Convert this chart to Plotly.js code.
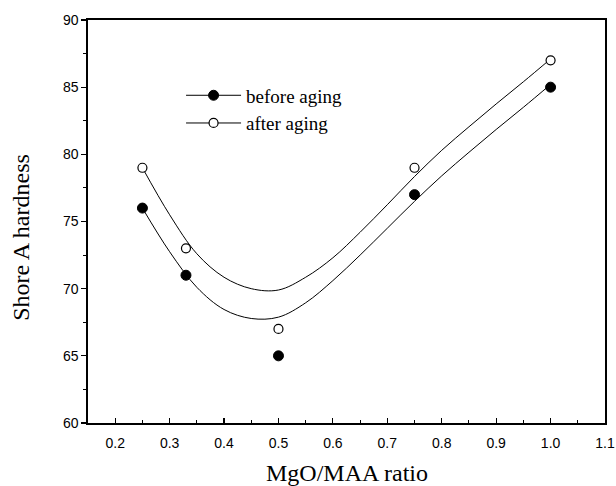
<!DOCTYPE html>
<html>
<head>
<meta charset="utf-8">
<script src="https://cdn.plot.ly/plotly-3.0.1.min.js"></script>
<style>html,body{margin:0;padding:0;background:#fff}#chart{width:616px;height:486px}</style>
</head>
<body>
<div id="chart"></div>
<script>
// measured data points
var ratio = [0.25, 0.33, 0.5, 0.75, 1.0];
var beforeAging = [76, 71, 65, 77, 85];
var afterAging = [79, 73, 67, 79, 87];

// fitted curves
var curveX = [0.25, 0.30, 0.35, 0.40, 0.45, 0.50, 0.55, 0.60, 0.65, 0.70, 0.75, 0.80, 0.85, 0.90, 0.95, 1.0];
var beforeCurve = [76.0, 72.75, 70.1, 68.45, 67.78, 67.88, 68.95, 70.6, 72.5, 74.5, 76.5, 78.4, 80.15, 81.85, 83.5, 85.2];
var afterCurve = [79.0, 75.5, 72.6, 70.85, 70.0, 69.9, 70.85, 72.3, 74.2, 76.25, 78.35, 80.3, 82.05, 83.75, 85.4, 87.1];

var seriesNames = ['before aging', 'after aging'];
var xTitle = 'MgO/MAA ratio';
var yTitle = 'Shore A hardness';

var lineStyle = {color: '#000', width: 1, shape: 'spline', smoothing: 1};
var filledMarker = {symbol: 'circle', size: 10, color: '#000', line: {color: '#000', width: 1}};
var openMarker = {symbol: 'circle', size: 9, color: '#fff', line: {color: '#000', width: 1.2}};

var traces = [
  {x: curveX, y: beforeCurve, mode: 'lines', line: lineStyle, showlegend: false, hoverinfo: 'skip'},
  {x: curveX, y: afterCurve, mode: 'lines', line: lineStyle, showlegend: false, hoverinfo: 'skip'},
  {x: ratio, y: beforeAging, mode: 'markers', marker: filledMarker, showlegend: false},
  {x: ratio, y: afterAging, mode: 'markers', marker: openMarker, showlegend: false},
  {x: [null], y: [null], mode: 'lines+markers', name: seriesNames[0], line: {color: '#000', width: 1}, marker: filledMarker},
  {x: [null], y: [null], mode: 'lines+markers', name: seriesNames[1], line: {color: '#000', width: 1}, marker: openMarker}
];

var tickFont = {family: 'Liberation Sans, Arial, sans-serif', size: 14, color: '#000'};
var titleFont = {family: 'Liberation Serif, Times New Roman, serif', size: 24, color: '#000'};

var layout = {
  width: 616, height: 486,
  margin: {l: 88, r: 11, t: 20, b: 63},
  paper_bgcolor: '#fff', plot_bgcolor: '#fff',
  showlegend: true,
  legend: {
    x: 0.18, y: 0.86, xanchor: 'left', yanchor: 'top',
    bgcolor: 'rgba(0,0,0,0)', borderwidth: 0,
    font: {family: 'Liberation Serif, Times New Roman, serif', size: 19, color: '#000'},
    itemwidth: 55, tracegroupgap: 0
  },
  xaxis: {
    range: [0.15, 1.1], tick0: 0.2, dtick: 0.1, tickformat: '.1f',
    ticks: 'inside', ticklen: 5, tickwidth: 1.2, tickcolor: '#000', ticklabelstandoff: 7,
    minor: {dtick: 0.05, tick0: 0.15, ticks: 'inside', ticklen: 3, tickwidth: 1, tickcolor: '#000', showgrid: false},
    showline: true, linecolor: '#000', linewidth: 1.6, mirror: true,
    showgrid: false, zeroline: false, tickfont: tickFont
  },
  yaxis: {
    range: [60, 90], tick0: 60, dtick: 5,
    ticks: 'outside', ticklen: 5, tickwidth: 1.2, tickcolor: '#000',
    minor: {dtick: 2.5, tick0: 60, ticks: 'outside', ticklen: 3, tickwidth: 1, tickcolor: '#000', showgrid: false},
    showline: true, linecolor: '#000', linewidth: 1.6, mirror: true,
    showgrid: false, zeroline: false, tickfont: tickFont
  },
  annotations: [
    {text: xTitle, xref: 'paper', yref: 'paper', x: 0.5, y: -0.125, xanchor: 'center', yanchor: 'middle', showarrow: false, font: titleFont},
    {text: yTitle, xref: 'paper', yref: 'paper', x: -0.13, y: 0.4615, xanchor: 'center', yanchor: 'middle', textangle: -90, showarrow: false, font: titleFont}
  ]
};

Plotly.newPlot('chart', traces, layout, {staticPlot: true, displayModeBar: false});
</script>
</body>
</html>
